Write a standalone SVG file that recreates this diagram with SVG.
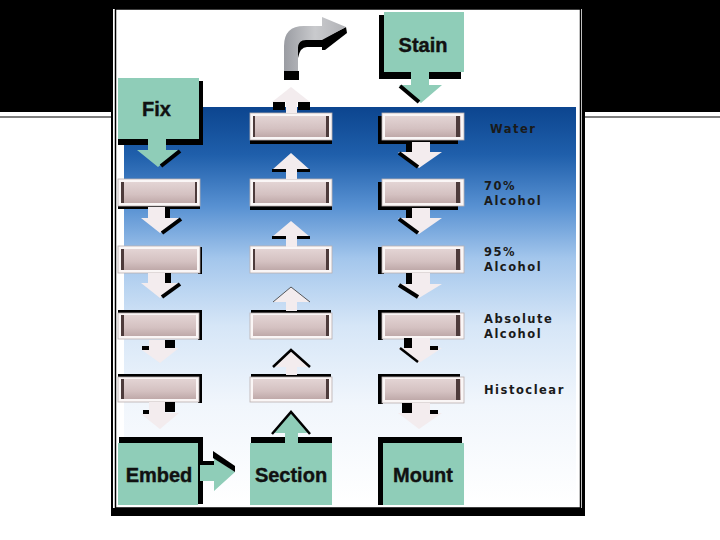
<svg xmlns="http://www.w3.org/2000/svg" width="720" height="540" viewBox="0 0 720 540">
<defs>
<linearGradient id="sky" x1="0" y1="0" x2="0" y2="1">
<stop offset="0" stop-color="#0c458f"/>
<stop offset="0.12" stop-color="#1f5fab"/>
<stop offset="0.25" stop-color="#5891d2"/>
<stop offset="0.38" stop-color="#a3c6ec"/>
<stop offset="0.55" stop-color="#d6e6f7"/>
<stop offset="0.75" stop-color="#f1f6fc"/>
<stop offset="1" stop-color="#ffffff"/>
</linearGradient>
<linearGradient id="pink" x1="0" y1="0" x2="0" y2="1">
<stop offset="0" stop-color="#e3d4d4"/>
<stop offset="0.6" stop-color="#d4c1c1"/>
<stop offset="1" stop-color="#bfa9a9"/>
</linearGradient>
<linearGradient id="grayArr" x1="0" y1="0" x2="1" y2="0">
<stop offset="0" stop-color="#9a9ca2"/>
<stop offset="0.5" stop-color="#c9cacd"/>
<stop offset="1" stop-color="#b0b1b5"/>
</linearGradient>
<style>
.sh{fill:#000}
.tw{fill:#faf6f6;stroke:#b9b0b0;stroke-width:0.8}
.tp{fill:url(#pink)}
.ts{fill:#4d3b3b}
.gr{fill:#8fcdb8}
.pa{fill:#f3ecee}
.ga{fill:#8fcdb8}
.bk{fill:none;stroke:#000;stroke-width:4}
.bt{fill:none;stroke:#000;stroke-width:2.5}
.lab{font-family:"Liberation Sans",Arial,sans-serif;font-weight:bold;font-size:20px;fill:#111;stroke:#111;stroke-width:0.4}
.sol{font-family:"DejaVu Sans","Liberation Sans",sans-serif;font-weight:bold;font-size:11.5px;letter-spacing:1.5px;fill:#1a1a1a}
</style>
</defs>

<!-- slide background -->
<rect x="0" y="0" width="720" height="540" fill="#fff"/>
<rect x="0" y="0" width="720" height="112" fill="#000"/>
<line x1="0" y1="117" x2="112" y2="117" stroke="#555" stroke-width="1.5"/>
<line x1="584" y1="117" x2="720" y2="117" stroke="#555" stroke-width="1.5"/>

<!-- picture frame -->
<rect x="111" y="8" width="474" height="508" fill="#000"/>
<rect x="113" y="9" width="469" height="499" fill="#fff"/>
<rect x="115.5" y="9" width="465" height="499" fill="none" stroke="#000" stroke-width="1.5"/>
<rect x="117" y="10" width="462" height="497" fill="#fff"/>

<!-- blue gradient -->
<rect x="124" y="107" width="452" height="398" fill="url(#sky)"/>

<!-- labels -->
<g id="labels">
<text class="sol" x="490" y="133">Water</text>
<text class="sol" x="484" y="190">70%</text>
<text class="sol" x="484" y="205">Alcohol</text>
<text class="sol" x="484" y="256">95%</text>
<text class="sol" x="484" y="271">Alcohol</text>
<text class="sol" x="484" y="323">Absolute</text>
<text class="sol" x="484" y="338">Alcohol</text>
<text class="sol" x="484" y="394">Histoclear</text>
</g>

<!-- green step nodes -->
<g id="fix">
<rect class="sh" x="199" y="81" width="4" height="64"/>
<rect class="sh" x="118" y="139" width="85" height="6"/>
<rect class="gr" x="118" y="78" width="81" height="61"/>
<text class="lab" x="142" y="116">Fix</text>
</g>
<g id="stain">
<rect class="sh" x="379" y="15" width="5" height="63"/>
<rect class="sh" x="379" y="72" width="82" height="7"/>
<rect class="gr" x="384" y="12" width="80" height="60"/>
<text class="lab" x="423" y="52" text-anchor="middle">Stain</text>
</g>
<g id="embed">
<rect class="sh" x="119" y="437" width="84" height="6"/>
<rect class="sh" x="198" y="437" width="5" height="67"/>
<rect class="gr" x="118" y="443" width="80" height="62"/>
<text class="lab" x="159" y="482" text-anchor="middle">Embed</text>
</g>
<g id="section">
<rect class="sh" x="251" y="437" width="81" height="6"/>
<rect class="gr" x="250" y="443" width="82" height="62"/>
<text class="lab" x="291" y="482" text-anchor="middle">Section</text>
</g>
<g id="mount">
<rect class="sh" x="380" y="437" width="82" height="6"/>
<rect class="sh" x="378" y="437" width="5" height="68"/>
<rect class="gr" x="383" y="443" width="81" height="62"/>
<text class="lab" x="423" y="482" text-anchor="middle">Mount</text>
</g>

<!-- column 1 trays -->
<g id="c1r1">
<rect class="sh" x="118" y="205" width="82" height="4"/>
<rect class="tw" x="118" y="179" width="82" height="27"/>
<rect class="tp" x="121" y="182" width="76" height="21"/>
<rect class="ts" x="121" y="182" width="3" height="21"/>
<rect class="ts" x="195" y="182" width="2" height="21"/>
</g>
<g id="c1r2">
<rect class="sh" x="198" y="247" width="4" height="27"/>
<rect class="tw" x="118" y="246" width="82" height="27"/>
<rect class="tp" x="121" y="249" width="76" height="21"/>
<rect class="ts" x="121" y="249" width="3" height="21"/>
</g>
<g id="c1r3">
<rect class="sh" x="118" y="310" width="84" height="4"/>
<rect class="sh" x="198" y="310" width="4" height="30"/>
<rect class="tw" x="118" y="313" width="81" height="26"/>
<rect class="tp" x="121" y="315" width="75" height="21"/>
<rect class="ts" x="121" y="315" width="3" height="21"/>
</g>
<g id="c1r4">
<rect class="sh" x="118" y="374" width="84" height="4"/>
<rect class="sh" x="198" y="374" width="4" height="29"/>
<rect class="tw" x="118" y="377" width="81" height="25"/>
<rect class="tp" x="121" y="379" width="75" height="20"/>
<rect class="ts" x="121" y="379" width="3" height="20"/>
</g>

<!-- column 2 trays -->
<g id="c2r0">
<rect class="sh" x="250" y="139" width="82" height="5"/>
<rect class="tw" x="250" y="113" width="82" height="27"/>
<rect class="tp" x="253" y="116" width="76" height="21"/>
<rect class="ts" x="253" y="116" width="2" height="21"/>
<rect class="ts" x="326" y="116" width="3" height="21"/>
</g>
<g id="c2r1">
<rect class="sh" x="250" y="205" width="82" height="5"/>
<rect class="tw" x="250" y="179" width="82" height="27"/>
<rect class="tp" x="253" y="182" width="76" height="21"/>
<rect class="ts" x="253" y="182" width="2" height="21"/>
<rect class="ts" x="326" y="182" width="3" height="21"/>
</g>
<g id="c2r2">
<rect class="tw" x="250" y="246" width="82" height="27"/>
<rect class="tp" x="253" y="249" width="76" height="21"/>
<rect class="ts" x="253" y="249" width="2" height="21"/>
<rect class="ts" x="326" y="249" width="3" height="21"/>
</g>
<g id="c2r3">
<rect class="sh" x="251" y="310" width="80" height="4"/>
<rect class="tw" x="250" y="313" width="82" height="26"/>
<rect class="tp" x="253" y="315" width="76" height="21"/>
<rect class="ts" x="326" y="315" width="3" height="21"/>
</g>
<g id="c2r4">
<rect class="sh" x="251" y="374" width="80" height="4"/>
<rect class="tw" x="250" y="377" width="82" height="25"/>
<rect class="tp" x="253" y="379" width="76" height="20"/>
<rect class="ts" x="326" y="379" width="3" height="20"/>
</g>

<!-- column 3 trays -->
<g id="c3r0">
<rect class="sh" x="378" y="116" width="80" height="28"/>
<rect class="tw" x="382" y="113" width="82" height="27"/>
<rect class="tp" x="385" y="116" width="76" height="21"/>
<rect class="ts" x="456" y="116" width="4" height="21"/>
</g>
<g id="c3r1">
<rect class="sh" x="378" y="182" width="80" height="28"/>
<rect class="tw" x="382" y="179" width="82" height="27"/>
<rect class="tp" x="385" y="182" width="76" height="21"/>
<rect class="ts" x="456" y="182" width="4" height="21"/>
</g>
<g id="c3r2">
<rect class="sh" x="378" y="247" width="6" height="27"/>
<rect class="tw" x="382" y="246" width="82" height="27"/>
<rect class="tp" x="385" y="249" width="76" height="21"/>
<rect class="ts" x="456" y="249" width="4" height="21"/>
</g>
<g id="c3r3">
<rect class="sh" x="378" y="310" width="82" height="4"/>
<rect class="sh" x="378" y="310" width="5" height="30"/>
<rect class="tw" x="382" y="313" width="82" height="26"/>
<rect class="tp" x="385" y="315" width="76" height="21"/>
<rect class="ts" x="456" y="315" width="4" height="21"/>
</g>
<g id="c3r4">
<rect class="sh" x="378" y="374" width="82" height="4"/>
<rect class="sh" x="378" y="374" width="5" height="30"/>
<rect class="tw" x="382" y="377" width="82" height="26"/>
<rect class="tp" x="385" y="379" width="76" height="21"/>
<rect class="ts" x="456" y="379" width="4" height="21"/>
</g>

<!-- connectors -->
<g id="connectors">
<!-- column 1 down -->
<path class="ga" d="M148,138 L166,138 L166,150 L178,150 L158,167 L137,150 L148,150 Z"/>
<path class="bk" d="M180,151 L161,166"/>

<rect class="sh" x="165" y="207" width="5" height="11"/>
<path class="pa" d="M148,207 L165,207 L165,218 L179,218 L160,233 L141,218 L148,218 Z"/>
<path class="bk" d="M181,219 L162,233"/>

<rect class="sh" x="165" y="273" width="6" height="11"/>
<path class="pa" d="M148,273 L165,273 L165,283 L178,283 L160,298 L141,283 L148,283 Z"/>
<path class="bk" d="M180,284 L162,297"/>

<rect class="sh" x="165" y="340" width="10" height="9"/>
<rect class="sh" x="142" y="346" width="8" height="4"/>
<path class="pa" d="M149,340 L165,340 L165,348 L179,348 L160,363 L142,350 L149,350 Z"/>

<rect class="sh" x="165" y="402" width="10" height="10"/>
<rect class="sh" x="143" y="410" width="7" height="4"/>
<path class="pa" d="M149,402 L165,402 L165,413 L179,413 L160,429 L141,414 L149,414 Z"/>

<!-- column 3 down -->
<path class="ga" d="M411,72 L429,72 L429,85 L442,85 L421,103 L399,85 L411,85 Z"/>
<path class="bk" d="M400,86 L419,102"/>

<rect class="sh" x="406" y="142" width="6" height="10"/>
<path class="pa" d="M412,142 L430,142 L430,152 L442,152 L419,168 L398,152 L412,152 Z"/>
<path class="bk" d="M399,153 L418,167"/>

<rect class="sh" x="406" y="208" width="6" height="10"/>
<path class="pa" d="M412,208 L430,208 L430,218 L442,218 L419,234 L398,218 L412,218 Z"/>
<path class="bk" d="M399,219 L418,233"/>

<rect class="sh" x="406" y="273" width="6" height="11"/>
<path class="pa" d="M412,273 L430,273 L430,284 L442,284 L419,298 L398,284 L412,284 Z"/>
<path class="bk" d="M399,285 L418,297"/>

<rect class="sh" x="404" y="338" width="8" height="10"/>
<path class="pa" d="M412,338 L430,338 L430,348 L442,348 L419,363 L398,348 L412,348 Z"/>
<path class="bt" d="M400,348 L418,362"/>
<rect class="sh" x="430" y="346" width="8" height="4"/>

<rect class="sh" x="402" y="403" width="10" height="10"/>
<path class="pa" d="M412,403 L430,403 L430,413 L442,413 L419,429 L398,413 L412,413 Z"/>
<rect class="sh" x="430" y="410" width="8" height="4"/>

<!-- column 2 up -->
<path class="ga" d="M285,444 L285,433 L272,433 L291,411 L310,433 L298,433 L298,444 Z"/>
<path class="bt" d="M272,434 L291,412 L310,434"/>

<path class="pa" d="M286,375 L286,367 L273,367 L291,350 L310,367 L297,367 L297,375 Z"/>
<path class="bt" d="M273,367 L291,350 L310,367"/>

<path class="pa" d="M286,311 L286,302 L273,302 L291,287 L310,302 L297,302 L297,311 Z"/>
<path d="M273,302 L291,287 L310,302" fill="none" stroke="#333" stroke-width="0.8"/>

<path class="pa" d="M286,247 L286,237 L272,237 L291,221 L310,237 L297,237 L297,247 Z"/>
<rect class="sh" x="272" y="236" width="14" height="3"/>
<rect class="sh" x="297" y="236" width="13" height="3"/>

<path class="pa" d="M286,179 L286,170 L272,170 L291,153 L310,170 L297,170 L297,179 Z"/>
<rect class="sh" x="272" y="169" width="14" height="3"/>
<rect class="sh" x="297" y="169" width="13" height="3"/>

<path class="pa" d="M286,113 L286,102 L272,102 L291,87 L310,102 L297,102 L297,113 Z"/>
<rect class="sh" x="273" y="102" width="12" height="8"/>
<rect class="sh" x="298" y="102" width="12" height="8"/>

<!-- bent exit arrow -->
<rect class="sh" x="284" y="71" width="15" height="9"/>
<path d="M298,58 L298,47 Q298,39 307,39 L322,39 L322,47 L307,47 Q300,47 298,58 Z" fill="#000"/>
<path d="M322,39 L346,27 L347,33 L325,50 L322,50 Z" fill="#000"/>
<path d="M284,71 L284,46 Q284,26 304,26 L322,26 L322,17 L346,27 L322,40 L306,40 Q298,40 298,48 L298,71 Z" fill="url(#grayArr)"/>

<!-- Embed to Section -->
<rect class="sh" x="201" y="461" width="13" height="5"/>
<path class="ga" d="M200,465 L214,465 L214,458 L235,472 L214,491 L214,481 L200,481 Z"/>
<path d="M213,451 L235,466 L235,472 L213,458 Z" fill="#000"/>
</g>
</svg>
